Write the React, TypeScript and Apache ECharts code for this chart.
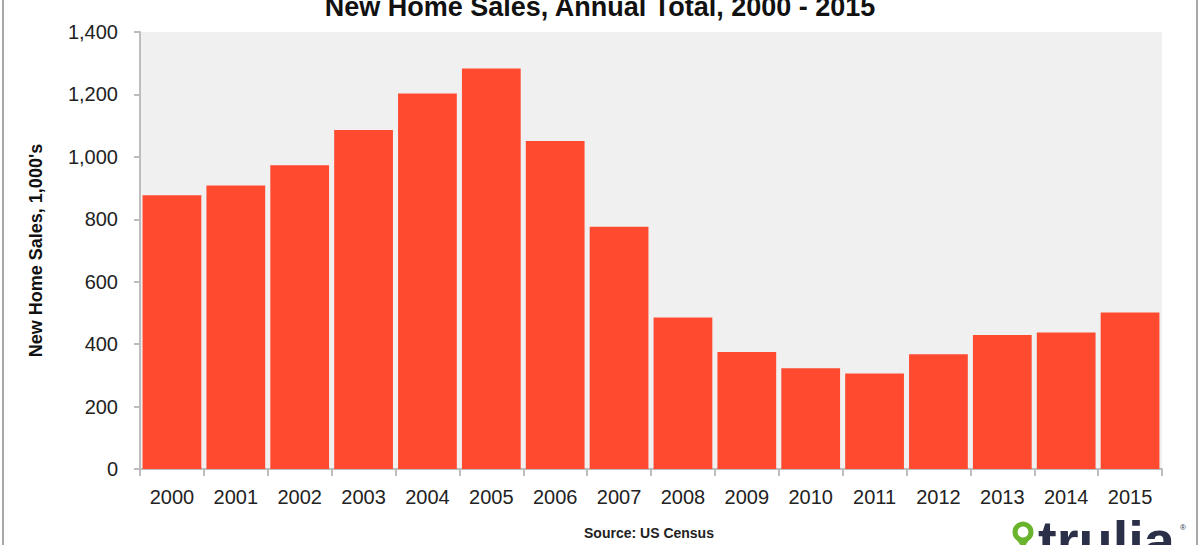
import React, { useEffect, useRef } from "react";
import * as echarts from "echarts";

const years = ["2000","2001","2002","2003","2004","2005","2006","2007","2008","2009","2010","2011","2012","2013","2014","2015"];
const sales = [877, 908, 973, 1086, 1203, 1283, 1051, 776, 485, 375, 323, 306, 368, 429, 437, 501];
const titleText = "New Home Sales, Annual Total, 2000 - 2015";
const yAxisName = "New Home Sales, 1,000's";
const sourceText = "Source: US Census";

const FONT = "'Liberation Sans', Arial, sans-serif";

export default function App() {
  const ref = useRef<HTMLDivElement>(null);
  useEffect(() => {
    if (!ref.current) return;
    const chart = echarts.init(ref.current, null, { renderer: "svg" });
    chart.setOption({
      animation: false,
      backgroundColor: "#ffffff",
      title: {
        text: titleText,
        left: "center",
        top: -12,
        textStyle: { fontFamily: FONT, fontSize: 27, fontWeight: "bold", color: "#111" },
      },
      grid: {
        left: 140,
        right: 38,
        top: 32,
        bottom: 76,
        show: true,
        backgroundColor: "#f0f0f0",
        borderWidth: 0,
      },
      xAxis: {
        type: "category",
        data: years,
        axisLine: { show: true, lineStyle: { color: "#bdbdbd", width: 2 } },
        axisTick: { show: true, alignWithLabel: false, length: 7, lineStyle: { color: "#bdbdbd", width: 2 } },
        axisLabel: { fontFamily: FONT, fontSize: 20, color: "#222", margin: 18 },
      },
      yAxis: {
        type: "value",
        min: 0,
        max: 1400,
        interval: 200,
        name: yAxisName,
        nameLocation: "middle",
        nameGap: 95,
        nameTextStyle: { fontFamily: FONT, fontSize: 18, fontWeight: "bold", color: "#111" },
        axisLine: { show: true, lineStyle: { color: "#bdbdbd", width: 2 } },
        axisTick: { show: true, inside: false, length: 6, lineStyle: { color: "#bdbdbd", width: 2 } },
        axisLabel: {
          fontFamily: FONT,
          fontSize: 20,
          color: "#222",
          margin: 22,
          formatter: (v: number) => v.toLocaleString("en-US"),
        },
        splitLine: { show: false },
      },
      series: [
        {
          type: "bar",
          data: sales,
          barCategoryGap: "8%",
          itemStyle: { color: "#ff4a30" },
        },
      ],
      graphic: [
        { type: "line", shape: { x1: 3, y1: 0, x2: 3, y2: 545 }, style: { stroke: "#a8a8a8", lineWidth: 2 } },
        { type: "line", shape: { x1: 1197, y1: 0, x2: 1197, y2: 545 }, style: { stroke: "#a8a8a8", lineWidth: 2 } },
        {
          type: "text",
          x: 649,
          y: 533,
          style: { text: sourceText, fontFamily: FONT, fontSize: 14, fontWeight: "bold", fill: "#222", align: "center", verticalAlign: "middle" },
        },
        { type: "polygon", shape: { points: [[1015, 537], [1031, 537], [1023, 549]] }, style: { fill: "#6ab42d" } },
        { type: "circle", shape: { cx: 1023, cy: 532, r: 8 }, style: { fill: "#ffffff", stroke: "#6ab42d", lineWidth: 5 } },
        {
          type: "text",
          x: 1038,
          y: 512,
          style: { text: "trulia", fontFamily: FONT, fontSize: 56, fontWeight: "bold", fill: "#2b2f48", align: "left", verticalAlign: "top" },
        },
        {
          type: "text",
          x: 1180,
          y: 527,
          style: { text: "®", fontFamily: FONT, fontSize: 8, fill: "#2b2f48", align: "left", verticalAlign: "middle" },
        },
      ],
    });
    return () => chart.dispose();
  }, []);
  return <div ref={ref} style={{ position: "fixed", left: 0, top: 0, width: 1200, height: 545 }} />;
}
